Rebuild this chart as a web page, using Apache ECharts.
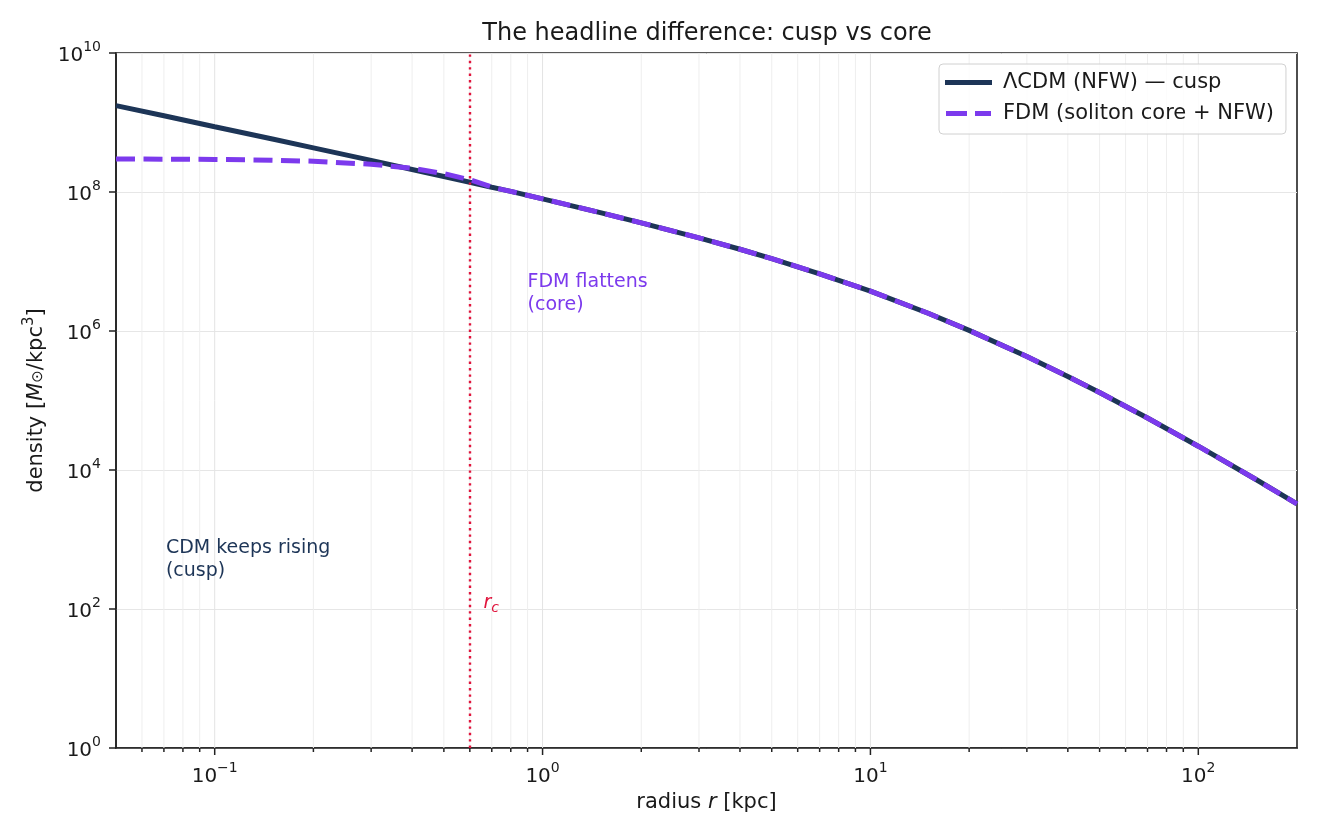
<!DOCTYPE html>
<html>
<head>
<meta charset="utf-8">
<script src="https://cdn.jsdelivr.net/npm/echarts@6/dist/echarts.min.js"></script>
<style>
html,body{margin:0;padding:0;background:#fff}
#main{width:1320px;height:840px}
</style>
</head>
<body>
<div id="main"></div>
<script>
// radius in kpc, density in Msun/kpc^3
var radius = [0.05, 0.07, 0.1, 0.15, 0.2, 0.3, 0.4, 0.5, 0.6, 0.7, 0.75, 0.8, 1, 1.5, 2, 3, 4, 5, 7, 10, 15, 20, 30, 40, 50, 70, 100, 150, 200];
var nfwDensity = [1.75e9, 1.25e9, 8.7e8, 5.78e8, 4.31e8, 2.85e8, 2.11e8, 1.67e8, 1.38e8, 1.17e8, 1.09e8, 1.02e8, 7.98e7, 5.05e7, 3.6e7, 2.19e7, 1.5e7, 1.1e7, 6.65e6, 3.75e6, 1.8e6, 1.02e6, 4.3e5, 2.22e5, 1.3e5, 5.6e4, 2.2e4, 7.3e3, 3.25e3];
var fdmDensity = [2.985e8, 2.97e8, 2.94e8, 2.87e8, 2.77e8, 2.51e8, 2.19e8, 1.84e8, 1.5e8, 1.18e8, 1.09e8, 1.02e8, 7.98e7, 5.05e7, 3.6e7, 2.19e7, 1.5e7, 1.1e7, 6.65e6, 3.75e6, 1.8e6, 1.02e6, 4.3e5, 2.22e5, 1.3e5, 5.6e4, 2.2e4, 7.3e3, 3.25e3];
var coreRadius = 0.6;

var xRange = [0.05, 200];
var yRange = [1, 1e10];
var xMajorTicks = [0.1, 1, 10, 100];
var xMinorTicks = [0.06, 0.07, 0.08, 0.09, 0.2, 0.3, 0.4, 0.5, 0.6, 0.7, 0.8, 0.9, 2, 3, 4, 5, 6, 7, 8, 9, 20, 30, 40, 50, 60, 70, 80, 90];

// annotation anchors (data coords, top-left of text)
var cuspNote = [0.071, 1090];
var coreNote = [0.9, 7.4e6];
var rcNote = [0.66, 165];

var FONT = 'DejaVu Sans';
var INK = '#1a1a1a';
var NAVY = '#1d3557';
var PURPLE = '#7c3aed';
var CRIMSON = '#e0143c';

var chart = echarts.init(document.getElementById('main'));

function pow10Label(v) {
  var e = Math.log10(v), k = Math.round(e);
  if (Math.abs(e - k) > 1e-6) return '';
  return '{b|10}{s|' + String(k).replace('-', '\u2212') + '}';
}
var powRich = {
  b: {fontFamily: FONT, fontSize: 20, color: INK, lineHeight: 26, verticalAlign: 'bottom'},
  s: {fontFamily: FONT, fontSize: 14, color: INK, verticalAlign: 'top'}
};

// x ticks + vertical grid lines at the library's own log positions
function tickSeries(values, len, gridColor) {
  return {
    type: 'custom',
    silent: true,
    clip: false,
    z: 1,
    data: values.map(function (v) { return [v, yRange[0]]; }),
    renderItem: function (params, api) {
      var b = api.coord([api.value(0), yRange[0]]);
      var t = api.coord([api.value(0), yRange[1]]);
      return {
        type: 'group',
        children: [
          {type: 'line', shape: {x1: b[0], y1: b[1], x2: t[0], y2: t[1]}, style: {stroke: gridColor, lineWidth: 1}},
          {type: 'line', shape: {x1: b[0], y1: b[1], x2: b[0], y2: b[1] + len}, style: {stroke: '#222', lineWidth: 1.5}}
        ]
      };
    }
  };
}

var nfwName = '\u039bCDM (NFW) \u2014 cusp';
var fdmName = 'FDM (soliton core + NFW)';

var option = {
  animation: false,
  textStyle: {fontFamily: FONT},
  title: {
    text: 'The headline difference: cusp vs core',
    left: 707,
    top: 22,
    padding: 0,
    textAlign: 'center',
    textStyle: {fontFamily: FONT, fontSize: 24, fontWeight: 'normal', color: INK}
  },
  grid: {left: 116, right: 23, top: 53, bottom: 92, show: true, borderColor: '#222', borderWidth: 1.6},
  legend: {
    orient: 'vertical',
    left: 939,
    top: 64,
    align: 'left',
    itemWidth: 47,
    itemHeight: 5,
    itemGap: 10,
    padding: [8, 12, 10, 6],
    backgroundColor: 'rgba(255,255,255,0.85)',
    borderColor: '#d0d0d0',
    borderWidth: 1,
    borderRadius: 4,
    textStyle: {fontFamily: FONT, fontSize: 21, color: INK, padding: [0, 0, 0, 6]},
    data: [
      {name: nfwName, icon: 'rect'},
      {name: fdmName, icon: 'path://M0,0H21V5H0ZM29,0H45V5H29Z'}
    ]
  },
  xAxis: {
    type: 'log',
    logBase: 10,
    min: xRange[0],
    max: xRange[1],
    name: '{t|radius }{i|r}{t| [kpc]}',
    nameLocation: 'middle',
    nameGap: 43,
    nameTextStyle: {
      rich: {
        t: {fontFamily: FONT, fontSize: 21, color: INK},
        i: {fontFamily: FONT, fontSize: 21, fontStyle: 'italic', color: INK}
      }
    },
    axisLine: {lineStyle: {color: '#222', width: 1.6}},
    axisTick: {show: false},
    minorTick: {show: false},
    splitLine: {show: false},
    axisLabel: {formatter: pow10Label, rich: powRich, margin: 13}
  },
  yAxis: {
    type: 'log',
    logBase: 100,
    min: yRange[0],
    max: yRange[1],
    splitNumber: 5,
    name: '{t|density [}{i|M}{sub|\u2299}{t|/kpc}{sup|3}{t|]}',
    nameLocation: 'middle',
    nameRotate: 90,
    nameGap: 64,
    nameTextStyle: {
      rich: {
        t: {fontFamily: FONT, fontSize: 21, color: INK, lineHeight: 29},
        i: {fontFamily: FONT, fontSize: 21, fontStyle: 'italic', color: INK, lineHeight: 29},
        sub: {fontFamily: FONT, fontSize: 15, color: INK, padding: [4, 0, 0, 0]},
        sup: {fontFamily: FONT, fontSize: 15, color: INK, verticalAlign: 'top'}
      }
    },
    axisLine: {lineStyle: {color: '#222', width: 1.6}},
    axisTick: {show: true, length: 7, lineStyle: {color: '#222', width: 1.5}},
    splitLine: {show: true, lineStyle: {color: '#e6e6e6', width: 1}},
    axisLabel: {formatter: pow10Label, rich: powRich, margin: 15}
  },
  series: [
    tickSeries(xMinorTicks, 4, '#eeeeee'),
    tickSeries(xMajorTicks, 7, '#e3e3e3'),
    {
      name: nfwName,
      type: 'line',
      z: 3,
      symbol: 'none',
      showSymbol: false,
      data: radius.map(function (r, i) { return [r, nfwDensity[i]]; }),
      lineStyle: {color: NAVY, width: 5},
      itemStyle: {color: NAVY}
    },
    {
      name: fdmName,
      type: 'line',
      z: 4,
      symbol: 'none',
      showSymbol: false,
      data: radius.map(function (r, i) { return [r, fdmDensity[i]]; }),
      lineStyle: {color: PURPLE, width: 5, type: [19, 8.5]},
      itemStyle: {color: PURPLE},
      markLine: {
        silent: true,
        symbol: ['none', 'none'],
        label: {show: false},
        lineStyle: {color: CRIMSON, width: 2.4, type: [2.4, 4]},
        data: [{xAxis: coreRadius}]
      }
    }
  ]
};

chart.setOption(option);

function px(p) { return chart.convertToPixel({gridIndex: 0}, p); }
var a = px(cuspNote), b = px(coreNote), c = px(rcNote);

chart.setOption({
  graphic: [
    {
      type: 'text', x: a[0], y: a[1], z: 10, silent: true,
      style: {text: 'CDM keeps rising\n(cusp)', fill: NAVY, fontFamily: FONT, fontSize: 19, lineHeight: 23,
        align: 'left', textAlign: 'left', verticalAlign: 'top', textVerticalAlign: 'top'}
    },
    {
      type: 'text', x: b[0], y: b[1], z: 10, silent: true,
      style: {text: 'FDM flattens\n(core)', fill: PURPLE, fontFamily: FONT, fontSize: 19, lineHeight: 23,
        align: 'left', textAlign: 'left', verticalAlign: 'top', textVerticalAlign: 'top'}
    },
    {
      type: 'text', x: c[0], y: c[1], z: 10, silent: true,
      style: {
        text: '{i|r}{s|c}',
        align: 'left', textAlign: 'left', verticalAlign: 'top', textVerticalAlign: 'top',
        rich: {
          i: {fontFamily: FONT, fontSize: 19, fontStyle: 'italic', fill: CRIMSON, lineHeight: 21, verticalAlign: 'top'},
          s: {fontFamily: FONT, fontSize: 14, fontStyle: 'italic', fill: CRIMSON, verticalAlign: 'bottom'}
        }
      }
    }
  ]
});
</script>
</body>
</html>
